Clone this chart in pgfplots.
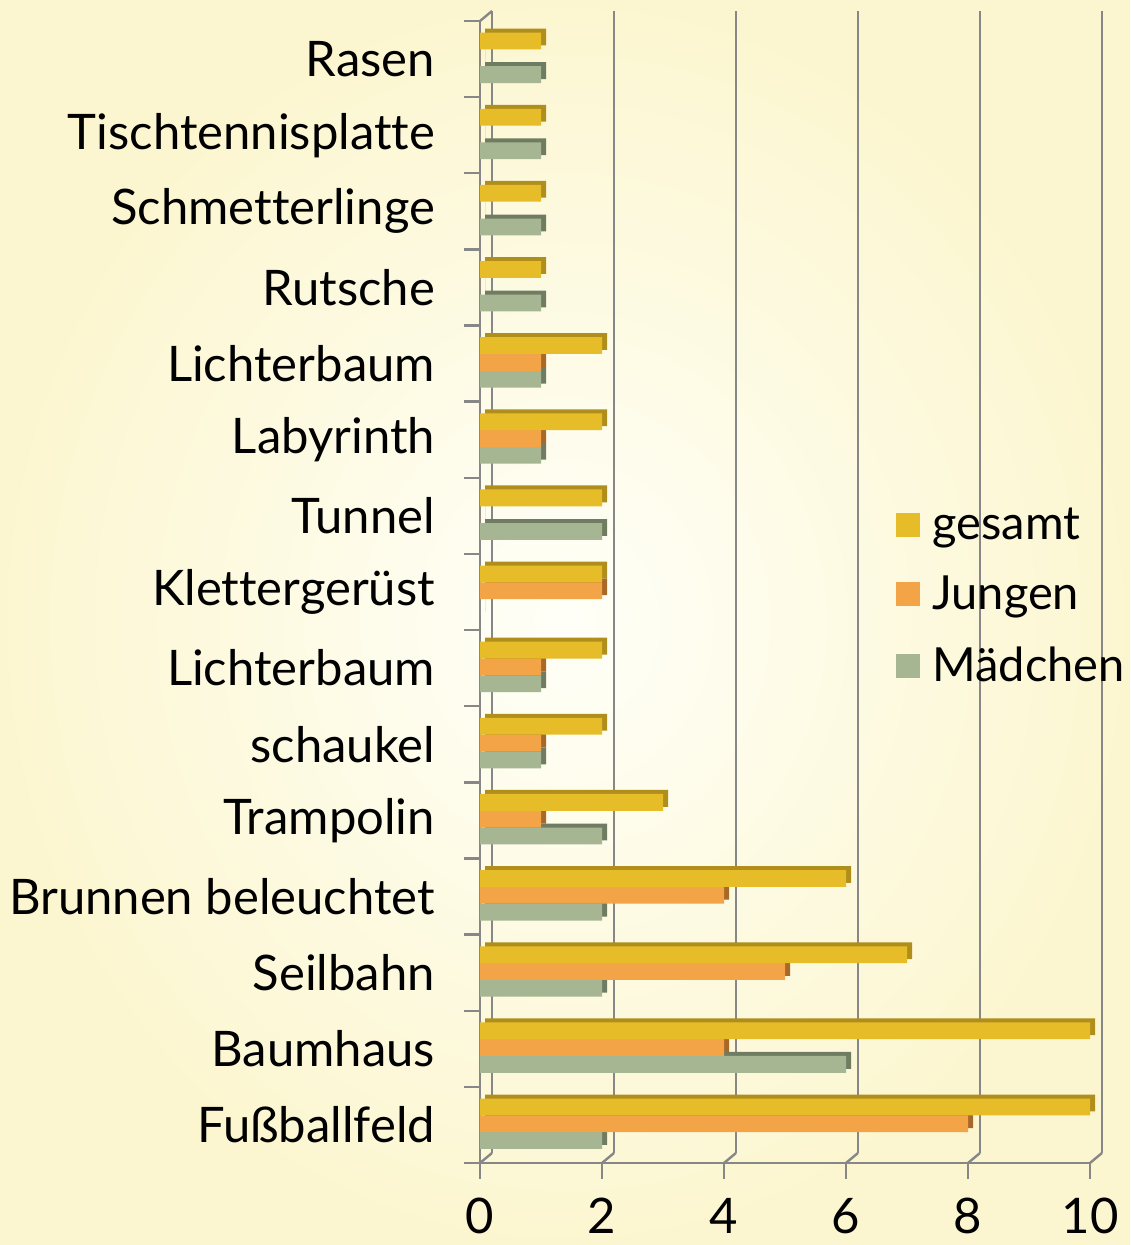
\documentclass[border=0pt]{standalone}
\usepackage{pgfplots}
\pgfplotsset{compat=1.18}
\usepackage{pgfplotstable}
\usepackage{fontspec}
\setmainfont{Lato}[Ligatures={NoCommon}]
\definecolor{cG}{RGB}{230,189,40}
\definecolor{cGd}{RGB}{176,142,28}
\definecolor{cJ}{RGB}{242,164,70}
\definecolor{cJd}{RGB}{168,104,40}
\definecolor{cM}{RGB}{166,181,146}
\definecolor{cMd}{RGB}{112,124,98}
\definecolor{axgray}{RGB}{135,135,135}
\definecolor{bgin}{RGB}{255,255,248}
\definecolor{bgout}{RGB}{252,246,208}

\pgfplotstableread{
idx g j m
0 10 8 2
1 10 4 6
2 7 5 2
3 6 4 2
4 3 1 2
5 2 1 1
6 2 1 1
7 2 2 0
8 2 0 2
9 2 1 1
10 2 1 1
11 1 0 1
12 1 0 1
13 1 0 1
14 1 0 1
}\datatable

\newcommand{\bigfont}{\fontsize{24.5}{28}\selectfont}
\newcommand{\legfont}{\fontsize{23.5}{27}\selectfont}

\begin{document}
\begin{tikzpicture}[x=1pt,y=1pt]
\shade[inner color=bgin, outer color=bgout] (0,0) rectangle (565,622.5);
\begin{axis}[
  at={(240pt,41pt)}, anchor=south west,
  scale only axis, width=305pt, height=571pt,
  xmin=0, xmax=10, ymin=-0.5, ymax=14.5,
  clip=false,
  xbar, bar width=8.4pt,
  axis x line*=bottom, axis y line*=left,
  axis line style={axgray, line width=1.2pt},
  xtick={0,2,...,10},
  ytick={-0.5,0.5,...,14.5},
  y tick label as interval,
  yticklabels={Fußballfeld,Baumhaus,Seilbahn,Brunnen beleuchtet,Trampolin,schaukel,Lichterbaum,Klettergerüst,Tunnel,Labyrinth,Lichterbaum,Rutsche,Schmetterlinge,Tischtennisplatte,Rasen},
  tick align=outside,
  major tick length=8pt,
  tick style={axgray, line width=1.2pt},
  xmajorgrids,
  major grid style={axgray, line width=1.2pt, xshift=6pt, yshift=5pt},
  /pgf/number format/assume math mode=true,
  xticklabel style={font=\bigfont, yshift=-6pt},
  yticklabel style={font=\bigfont, xshift=-11pt},
  reverse legend,
  legend cell align=left,
  legend style={at={(rel axis cs:0.682,0.4965)}, anchor=west, draw=none, fill=none,
    font=\legfont, row sep=13pt, inner sep=0pt,
    /tikz/every odd column/.append style={column sep=4pt}},
]
% Mädchen
\addplot[draw=none, fill=cMd, bar shift=-7.8pt, xshift=2.5pt, yshift=2pt, forget plot] table[x=m,y=idx] {\datatable};
\addplot[draw=none, fill=cM, bar shift=-7.8pt,
  legend image code/.code={\fill[cM] (0pt,-6pt) rectangle (12pt,6pt);}] table[x=m,y=idx] {\datatable};
\addlegendentry{Mädchen}
% Jungen
\addplot[draw=none, fill=cJd, bar shift=0.6pt, xshift=2.5pt, yshift=2pt, forget plot] table[x=j,y=idx] {\datatable};
\addplot[draw=none, fill=cJ, bar shift=0.6pt,
  legend image code/.code={\fill[cJ] (0pt,-6pt) rectangle (12pt,6pt);}] table[x=j,y=idx] {\datatable};
\addlegendentry{Jungen}
% gesamt
\addplot[draw=none, fill=cGd, bar shift=9pt, xshift=2.5pt, yshift=2pt, forget plot] table[x=g,y=idx] {\datatable};
\addplot[draw=none, fill=cG, bar shift=9pt,
  legend image code/.code={\fill[cG] (0pt,-6pt) rectangle (12pt,6pt);}] table[x=g,y=idx] {\datatable};
\addlegendentry{gesamt}
% 3D frame diagonals
\pgfplotsinvokeforeach{0,2,4,6,8,10}{
  \draw[axgray, line width=1.2pt] (axis cs:#1,-0.5) -- ++(6pt,5pt);
}
\draw[axgray, line width=1.2pt] (axis cs:0,14.5) -- ++(6pt,5pt);
\end{axis}
\end{tikzpicture}
\end{document}
